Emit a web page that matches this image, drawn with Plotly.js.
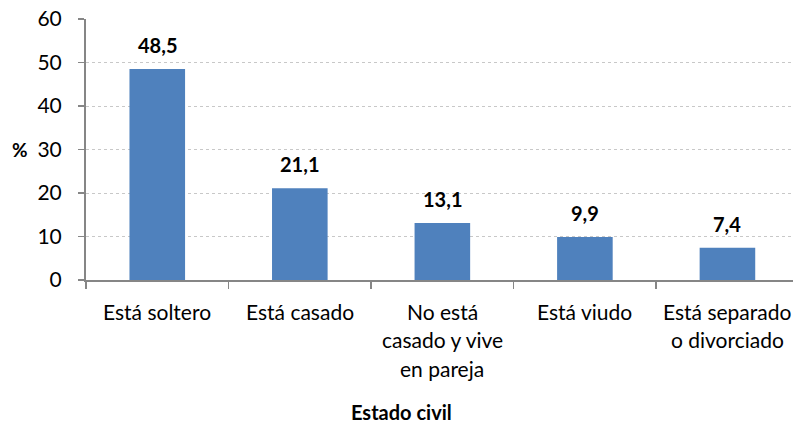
<!DOCTYPE html>
<html>
<head>
<meta charset="utf-8">
<script src="https://cdn.plot.ly/plotly-3.0.1.min.js"></script>
<style>html,body{margin:0;padding:0;background:#fff;}#chart{width:793px;height:424px;}</style>
</head>
<body>
<div id="chart"></div>
<script>
const categories = ["Está soltero", "Está casado", "No está casado y vive en pareja", "Está viudo", "Está separado o divorciado"];
const labelLines = [["Está soltero"], ["Está casado"], ["No está", "casado y vive", "en pareja"], ["Está viudo"], ["Está separado", "o divorciado"]];
const values = [48.5, 21.1, 13.1, 9.9, 7.4];
const valueLabels = ["48,5", "21,1", "13,1", "9,9", "7,4"];
const yTicks = [0, 10, 20, 30, 40, 50, 60];

const FONT = "Lato, 'Open Sans', sans-serif";
const annotations = [];
categories.forEach((c, i) => {
  annotations.push({
    x: c, y: values[i], xref: 'x', yref: 'y', text: '<b>' + valueLabels[i] + '</b>',
    showarrow: false, yanchor: 'bottom', yshift: 10,
    font: {family: FONT, size: 20, color: '#000'}
  });
  labelLines[i].forEach((ln, j) => {
    annotations.push({
      x: c, y: 0, xref: 'x', yref: 'y', text: ln, showarrow: false,
      yanchor: 'middle', yshift: -31 - j * 28.5,
      font: {family: FONT, size: 21, color: '#000'}
    });
  });
});
annotations.push({
  x: -0.093, y: 0.5, xref: 'paper', yref: 'paper', text: '<b>%</b>', showarrow: false,
  xanchor: 'center', yanchor: 'middle', font: {family: FONT, size: 19, color: '#000'}
});
annotations.push({
  x: 0.446, y: -0.506, xref: 'paper', yref: 'paper', text: '<b>Estado civil</b>', showarrow: false,
  xanchor: 'center', yanchor: 'middle', font: {family: FONT, size: 20, color: '#000'}
});

const trace = {
  type: 'bar', x: categories, y: values,
  marker: {color: '#4F81BD', line: {width: 0}},
  hoverinfo: 'none'
};

const layout = {
  width: 793, height: 424,
  margin: {l: 86, r: 0, t: 19, b: 144, pad: 0},
  paper_bgcolor: '#fff', plot_bgcolor: '#fff',
  bargap: 0.61,
  showlegend: false,
  font: {family: FONT, size: 20, color: '#000'},
  xaxis: {
    type: 'category', range: [-0.5, 4.46],
    showticklabels: false, ticks: 'outside', tickson: 'boundaries', ticklen: 7,
    tickcolor: '#868686', tickwidth: 1.5,
    showline: true, linecolor: '#868686', linewidth: 1.5,
    showgrid: false, zeroline: false, fixedrange: true
  },
  yaxis: {
    range: [0, 60], tickvals: yTicks, ticktext: yTicks.map(String),
    ticks: 'outside', ticklen: 6, tickcolor: '#868686', tickwidth: 1.5,
    ticklabelstandoff: 12,
    showline: true, linecolor: '#868686', linewidth: 2,
    showgrid: true, gridcolor: '#C8C8C8', griddash: 'dot', gridwidth: 1,
    zeroline: false, tickfont: {family: FONT, size: 21, color: '#000'}, fixedrange: true
  },
  annotations: annotations
};

Plotly.newPlot('chart', [trace], layout, {displayModeBar: false, staticPlot: true});
</script>
</body>
</html>
